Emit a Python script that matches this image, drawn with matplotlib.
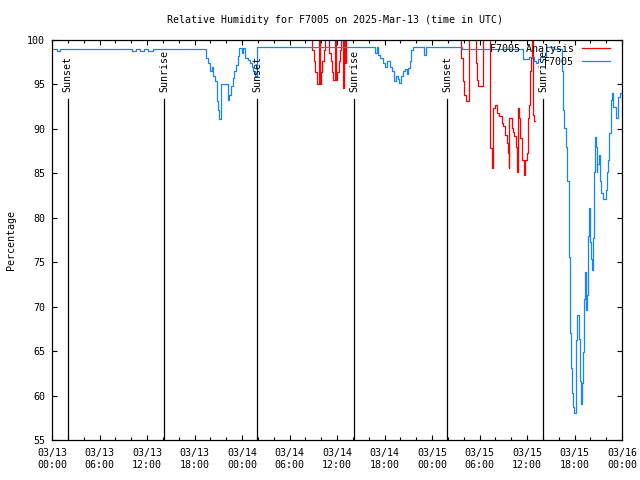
import matplotlib
matplotlib.use("Agg")
import matplotlib.pyplot as plt
import matplotlib.dates as mdates
import pandas as pd

plt.rcParams['font.family'] = ['DejaVu Sans Mono']

START = pd.Timestamp('2025-03-13 00:00')
END = pd.Timestamp('2025-03-16 00:00')

# Observed F7005 (hours since start, value held until next time)
obs_hours = [0, 0.63, 1.0, 10.1, 10.6, 11.1, 11.6, 12.1, 12.7,
             19.45, 19.70, 19.95, 20.15, 20.35, 20.59, 20.80, 21.00, 21.15, 21.35,
             22.23, 22.40, 22.60, 22.86, 23.05, 23.24, 23.45, 23.66, 23.96, 24.16,
             24.38, 24.76, 25.00, 25.22, 25.45, 25.64, 25.93,
             40.80, 41.00, 41.15, 41.45, 41.80, 42.05, 42.35, 42.65, 42.95, 43.20,
             43.45, 43.65, 43.85, 44.05, 44.30, 44.60, 44.80, 45.00, 45.20, 45.40,
             45.60, 47.00, 47.20,
             51.75, 59.53, 60.30, 60.85, 61.10, 61.40, 61.64, 62.40, 63.40,
             64.38, 64.51, 64.71, 64.93, 65.09, 65.26, 65.39, 65.56, 65.65, 65.77,
             65.90, 66.15, 66.28, 66.61, 66.69, 66.85, 66.95, 67.05, 67.20, 67.32,
             67.45, 67.58, 67.70, 67.83, 67.93, 68.02, 68.12, 68.25, 68.37, 68.47,
             68.60, 68.70, 68.78, 68.90, 69.05, 69.20, 69.35, 69.55, 69.94, 70.06,
             70.18, 70.30, 70.42, 70.55, 70.69, 70.82, 71.30, 71.55, 71.75, 72.0]
obs_values = [99.0, 98.8, 99.0, 98.8, 99.0, 98.8, 99.0, 98.8, 99.0,
              98.0, 97.4, 96.5, 97.0, 96.0, 95.4, 93.1, 92.1, 91.1, 95.0,
              93.3, 93.8, 94.8, 95.7, 96.5, 97.2, 98.2, 99.1, 98.5, 99.1,
              98.0, 97.8, 97.4, 97.0, 96.5, 96.0, 99.2,
              98.5, 99.2, 98.3, 98.0, 97.4, 97.0, 97.6, 97.0, 96.5, 95.4,
              95.9, 95.6, 95.2, 95.9, 96.5, 96.7, 96.2, 96.9, 97.6, 98.9,
              99.2, 98.3, 99.2,
              99.0, 97.9, 98.1, 97.6, 97.4, 97.9, 98.1, 99.2, 99.0,
              96.5, 92.1, 90.1, 88.0, 84.1, 75.6, 67.0, 63.1, 60.25, 58.75,
              58.0, 66.25, 69.1, 66.4, 61.6, 59.1, 61.4, 64.9, 70.9, 73.9,
              69.6, 71.3, 77.9, 81.1, 79.75, 77.3, 75.4, 74.1, 77.7, 85.2,
              89.1, 88.0, 85.2, 86.1, 87.1, 84.1, 82.75, 82.1, 83.1, 85.2,
              86.5, 87.6, 89.5, 93.25, 94.0, 92.5, 91.2, 93.6, 94.0, 94.0]

# Analysis F7005 (values above 100 are off the chart)
ana_hours = [0, 32.90, 33.08, 33.25, 33.42, 33.70, 33.82, 34.00, 34.15, 34.32,
             34.50, 35.00, 35.18, 35.35, 35.52, 35.80, 35.90, 36.05, 36.20, 36.35,
             36.50, 36.75, 36.88, 37.00, 37.12,
             51.70, 51.90, 52.10, 52.30, 52.62, 53.50, 53.70, 53.84, 54.50,
             55.30, 55.55, 55.72, 55.96, 56.25, 56.50, 56.80, 57.00, 57.22, 57.43,
             57.60, 57.69, 57.78, 58.07, 58.19, 58.36, 58.61, 58.78, 58.88, 59.03,
             59.15, 59.33, 59.62, 59.79, 59.97, 60.09, 60.25, 60.38, 60.50, 60.63,
             60.80, 60.92, 61.05]
ana_values = [101, 98.9, 97.6, 96.4, 95.1, 101, 95.1, 96.4, 97.6, 98.9,
              101, 98.5, 97.6, 96.4, 95.5, 101, 95.5, 96.4, 97.6, 98.9,
              101, 94.6, 101, 97.4, 101,
              98.0, 95.35, 93.85, 93.1, 101, 97.4, 95.5, 94.8, 101,
              87.85, 85.6, 92.35, 92.7, 91.8, 91.4, 90.7, 90.3, 89.35, 88.4,
              87.3, 85.6, 91.2, 90.1, 89.7, 89.2, 88.0, 85.2, 92.35, 91.2,
              89.0, 86.5, 84.85, 86.5, 87.3, 91.2, 92.7, 96.5, 98.0, 101,
              91.6, 90.85, 90.85]

sun_hours = [1.98, 14.19, 25.94, 38.19, 49.93, 62.06]
sun_labels = ['Sunset', 'Sunrise', 'Sunset', 'Sunrise', 'Sunset', 'Sunrise']

series_labels = ['F7005 Analysis', 'F7005']
title = 'Relative Humidity for F7005 on 2025-Mar-13 (time in UTC)'
ylabel = 'Percentage'


def to_time(hours):
    return START + pd.to_timedelta(pd.Series(hours), unit='h')


FS = 7.2
RED = '#ff0000'
BLUE = '#1585ff'

fig = plt.figure(figsize=(6.4, 4.8), dpi=100)
ax = fig.add_axes([52 / 640, 40 / 480, 570 / 640, 400 / 480])

ax.plot(to_time(ana_hours), ana_values, drawstyle='steps-post', color=RED,
        lw=0.9, label=series_labels[0])
ax.plot(to_time(obs_hours), obs_values, drawstyle='steps-post', color=BLUE,
        lw=0.9, label=series_labels[1])

for h, lab in zip(sun_hours, sun_labels):
    t = to_time([h])[0]
    ax.plot([t, t], [55, 93.4], color='black', lw=0.9)
    ax.text(t, 94.2, lab, rotation=90, ha='center', va='bottom', fontsize=FS)

ax.set_xlim(START, END)
ax.set_ylim(55, 100)
ax.set_yticks(range(55, 101, 5))
ax.xaxis.set_major_locator(mdates.HourLocator(byhour=[0, 6, 12, 18]))
ax.xaxis.set_minor_locator(mdates.HourLocator(byhour=range(0, 24, 2)))
ax.xaxis.set_major_formatter(mdates.DateFormatter('%m/%d\n%H:%M'))
ax.tick_params(which='both', direction='in', top=True, right=True, labelsize=FS, width=0.8)
ax.tick_params(which='major', length=3.6)
ax.tick_params(which='minor', length=2.0)
ax.tick_params(axis='x', which='major', pad=6)
ax.tick_params(axis='y', which='major', pad=5)
for lbl in ax.get_xticklabels():
    lbl.set_linespacing(1.15)
for sp in ax.spines.values():
    sp.set_linewidth(0.9)

ax.set_ylabel(ylabel, fontsize=FS)
ax.yaxis.set_label_coords(-0.064, 0.5)

fig.text(335 / 640, 1 - 20 / 480, title, ha='center', va='center', fontsize=FS)

ax.legend(loc='upper right', bbox_to_anchor=(0.979, 0.99), frameon=False,
          markerfirst=False, handlelength=2.8, handletextpad=0.8,
          labelspacing=0.3, borderpad=0, borderaxespad=0, fontsize=FS)

fig.savefig('out.png', dpi=100)
